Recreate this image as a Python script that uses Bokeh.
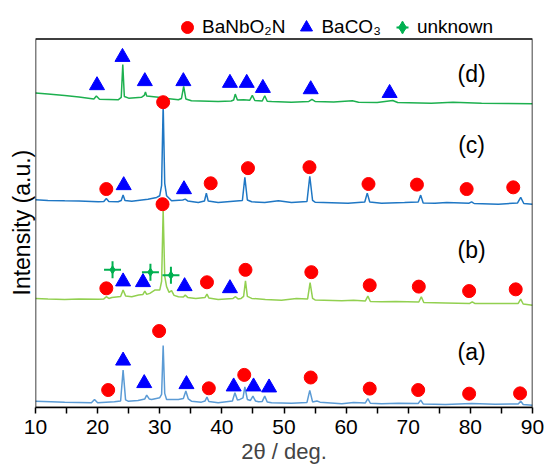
from bokeh.plotting import figure
from bokeh.models import Range1d, Legend, LegendItem, FixedTicker, Title, BoxAnnotation
from bokeh.core.properties import value
from bokeh.embed import file_html
from bokeh.resources import INLINE

# ---------------- data (2theta in deg, intensity in a.u.) ----------------
tt_a = [10, 12.5, 14.7, 17, 19.0, 19.5, 20.0, 22.7, 23.7, 24.1, 24.5, 24.9, 26.5, 27.6, 27.9, 28.3,
        28.7, 30.0, 30.3, 30.55, 30.8, 31.1, 33.0, 33.8, 34.2, 34.6, 35.1, 36.7, 37.3, 37.6, 37.9,
        39.4, 41.7, 42.1, 42.5, 42.9, 43.4, 43.7, 44.1, 44.6, 45.0, 45.4, 45.9, 46.5, 46.9, 47.3,
        48.0, 51.2, 53.7, 54.15, 54.6, 55.3, 55.8, 59.3, 61.2, 63.1, 63.5, 63.9, 65.7, 68.4, 71.6,
        72.0, 72.4, 76, 80.2, 84, 87.7, 88.1, 88.5, 90]
int_a = [6.3, 5.8, 5.3, 5.0, 4.7, 8.0, 4.8, 5.7, 6.5, 37, 7.5, 6.3, 7.0, 8.5, 12.3, 8.5,
         8.0, 9.7, 13, 61.3, 14, 8.0, 8.0, 9, 16.3, 8.5, 6.3, 5.3, 6.5, 10.3, 6.0,
         4.7, 6.5, 14.7, 7.5, 8.0, 9.5, 20.3, 8.0, 7, 11.3, 6.5, 5.7, 6, 11.3, 5.5,
         4.7, 4.3, 5, 17, 5.5, 6.5, 5.3, 3.7, 5.0, 4.5, 8.7, 4.2, 3.7, 4.3, 4,
         7.3, 3.5, 3.0, 4.0, 3.2, 3.5, 6.3, 3, 2.3]

tt_b = [10, 12, 14.7, 17, 20.1, 21.0, 21.4, 21.8, 22.3, 23.7, 24.1, 24.5, 25.5, 26.6, 27.3, 27.6,
        27.9, 28.4, 29.2, 30.0, 30.3, 30.55, 30.8, 31.1, 31.5, 31.9, 32.3, 33.0, 33.8, 34.1, 34.5,
        35.8, 37.3, 37.6, 37.9, 39.4, 41.8, 42.2, 42.6, 43.1, 43.5, 43.8, 44.1, 44.8, 47, 49.6,
        52.0, 53.8, 54.2, 54.6, 55.0, 59.3, 61.2, 63.1, 63.5, 63.9, 65.7, 68, 71.7, 72.1, 72.5,
        76, 79.9, 80.3, 80.7, 84, 87.7, 88.1, 88.5, 90]
int_b = [108, 107.5, 107, 107.5, 107.3, 107.5, 109.7, 108, 109, 110, 116.3, 110.5, 109.7, 111.3, 112, 115.3,
         112, 113, 116.3, 116.3, 125, 196, 130, 119.7, 114, 115.7, 111, 109.7, 109.5, 111.3, 109,
         108, 109, 112.3, 108.5, 107, 108, 109.7, 107.5, 108, 110, 125.3, 110, 108, 107, 106.3,
         108, 107.5, 123.7, 108, 106.5, 105.7, 106.3, 105.5, 110.3, 105, 104.7, 105, 104.5, 109.7, 104,
         103.5, 103, 104.7, 103, 103, 103, 107.3, 102.5, 101.3]

tt_c = [10, 12, 14.7, 17, 20.1, 21.0, 21.4, 21.8, 23.3, 23.8, 24.1, 24.4, 25.5, 28.1, 29.5, 30.0,
        30.3, 30.55, 30.8, 31.1, 31.9, 33.7, 34.1, 34.5, 36.2, 37.2, 37.5, 37.8, 39.4, 43.3, 43.7,
        44.1, 44.8, 46.9, 49.1, 51.2, 53.7, 54.15, 54.6, 55.0, 60.3, 63.0, 63.4, 63.8, 65.7, 69.4,
        71.6, 72.0, 72.4, 74.3, 76.2, 79.8, 80.2, 80.6, 84.5, 87.6, 88.1, 88.6, 90]
int_c = [205.7, 205, 204.7, 204.5, 203.7, 204, 207, 204, 203.7, 205, 210.3, 205, 204.3, 206.3, 208, 209.7,
         220, 300, 222, 209.7, 204.7, 205.5, 206.3, 204.5, 203, 204.5, 212.3, 204.5, 203, 205, 228,
         205.5, 203.7, 203, 204.7, 203, 204, 229, 205, 203.3, 202.3, 203.5, 212.3, 203.5, 202.3, 203,
         203.5, 210.3, 202.5, 202.3, 203, 202.3, 203.7, 202, 201.3, 202.5, 208, 202, 201.3]

tt_d = [10, 12, 14.7, 17, 19.4, 19.8, 20.3, 23.3, 23.8, 24.05, 24.3, 25.0, 27.1, 27.5, 27.7, 27.9,
        29.8, 30.8, 33.0, 33.5, 33.85, 34.2, 35.1, 39.4, 41.5, 41.9, 42.15, 42.5, 43.5, 44.5, 44.9,
        45.3, 46.5, 46.9, 47.3, 48.0, 51.2, 54.0, 54.5, 55.0, 58.0, 61.0, 62.0, 65.0, 67.5, 68.3,
        73.7, 77.2, 81.8, 86.0, 90]
int_d = [311.3, 310.5, 309, 307.5, 305.5, 308.5, 305.3, 304.7, 307, 339.7, 308, 306.3, 307.3, 309, 312.3, 308.5,
         307.3, 306.3, 304.7, 306, 318, 305.5, 303.7, 303, 303.5, 304.5, 310.3, 304.5, 304.7, 304.3, 309,
         304, 303.5, 308.7, 303.3, 303, 302.3, 303, 305, 303, 302.5, 303.7, 302.3, 302, 304, 302,
         301.3, 302.3, 301.3, 301, 300.7]

# phase markers: BaNbO2N (circles), BaCO3 (triangles), unknown (stars)
nbo_x = [21.7, 29.9, 37.9, 43.6, 54.3, 63.8, 71.6, 79.8, 88.0,
         21.4, 30.45, 37.6, 43.8, 54.4, 63.8, 71.7, 79.8, 87.3,
         21.4, 30.55, 38.2, 44.2, 54.1, 63.6, 71.4, 79.4, 86.9]
nbo_y = [17.3, 75.7, 19, 32.3, 29.7, 18.7, 17.3, 13.7, 14,
         118, 201.3, 124, 136.3, 134, 121, 119.7, 115.3, 117,
         216.3, 302.3, 222, 237, 238, 221.3, 220.7, 216.3, 218]
bco_x = [24.1, 27.5, 34.3, 41.9, 45.1, 47.6,
         24.1, 27.3, 34.0, 41.3,
         24.2, 33.9,
         19.9, 24.0, 27.6, 33.8, 41.3, 44.0, 46.6, 54.3, 67.0]
bco_y = [46.3, 24, 23, 20.7, 20.7, 19.7,
         124.7, 124, 120, 118,
         220, 216,
         319, 347, 323, 323, 321.3, 321.3, 316.3, 315, 311.3]
unk_x = [22.4, 28.5, 31.8]
unk_y = [136.3, 134, 131]

lab_text = ["(a)", "(b)", "(c)", "(d)"]
lab_x = [80.2, 80.2, 80.2, 80.2]
lab_y = [55, 156, 260, 330]

x_ticks = [10, 20, 30, 40, 50, 60, 70, 80, 90]
x_minor = [15, 25, 35, 45, 55, 65, 75, 85]
X_MIN, X_MAX = 10, 90
Y_BOX_TOP = 365      # top of the axes box (a.u.)
Y_VIEW_TOP = 403     # extra room above the box for the legend

assert len(tt_a) == len(int_a) and len(tt_b) == len(int_b)
assert len(tt_c) == len(int_c) and len(tt_d) == len(int_d)

FONT = "Liberation Sans"

p = figure(width=545, height=466, output_backend="svg", toolbar_location=None, title=None,
           x_range=Range1d(X_MIN, X_MAX), y_range=Range1d(0, Y_VIEW_TOP),
           min_border_left=35, min_border_right=13, min_border_top=0, min_border_bottom=0)
p.xgrid.visible = False
p.ygrid.visible = False
p.yaxis.visible = False
p.outline_line_color = None

# axes box
p.add_layout(BoxAnnotation(left=X_MIN, right=X_MAX, bottom=0, top=Y_BOX_TOP,
                           fill_alpha=0, fill_color=None, line_color="black", line_width=1.5,
                           line_alpha=1.0))

# traces
p.line(tt_a, int_a, line_color="#5b9bd5", line_width=1.5)
p.line(tt_b, int_b, line_color="#92d050", line_width=1.5)
p.line(tt_c, int_c, line_color="#1f77c4", line_width=1.5)
p.line(tt_d, int_d, line_color="#1db04f", line_width=1.5)

r_circ = p.scatter(nbo_x, nbo_y, marker="circle", size=13, fill_color="#ff0000", line_color="#ff0000")
r_tri = p.scatter(bco_x, bco_y, marker="triangle", size=15, fill_color="#0000ff", line_color="#0000ff")
r_cross = p.scatter(unk_x, unk_y, marker="cross", size=17, line_color="#00b050", line_width=2)
r_dia = p.scatter(unk_x, unk_y, marker="diamond", size=8, fill_color="#00b050", line_color="#00b050")

p.text(lab_x, lab_y, text=lab_text, text_font=value(FONT), text_font_size="23px",
       text_align="center", text_baseline="middle", text_color="black")

# x axis
xa = p.xaxis[0]
xa.ticker = FixedTicker(ticks=x_ticks, minor_ticks=x_minor)
xa.axis_label = "2θ / deg."
xa.axis_label_text_font = FONT
xa.axis_label_text_font_size = "22px"
xa.axis_label_text_font_style = "normal"
xa.axis_label_standoff = 2
xa.major_label_text_font = FONT
xa.major_label_text_font_size = "21px"
xa.major_label_text_color = "black"
xa.major_label_standoff = 6
xa.major_tick_in = 0
xa.major_tick_out = 6
xa.minor_tick_in = 0
xa.minor_tick_out = 6
xa.axis_line_width = 1.5
xa.major_tick_line_width = 1.5
xa.minor_tick_line_width = 1.5

# y axis title (the reference has no y ticks / tick labels)
ytitle = Title(text="Intensity (a.u.)", align="left", offset=112, text_font=FONT,
               text_font_size="23px", text_font_style="normal", text_color="black", standoff=2)
p.add_layout(ytitle, "left")

legend = Legend(items=[LegendItem(label="BaNbO₂N", renderers=[r_circ]),
                       LegendItem(label="BaCO₃", renderers=[r_tri]),
                       LegendItem(label="unknown", renderers=[r_cross, r_dia])],
                orientation="horizontal", location=(137, 365),
                glyph_width=30, glyph_height=30, label_standoff=0, spacing=6,
                padding=0, margin=0, border_line_color=None, background_fill_alpha=0,
                label_text_font=FONT, label_text_font_size="19px", label_text_color="black")
p.add_layout(legend, "center")

open("out.html", "w").write(file_html(p, INLINE))
